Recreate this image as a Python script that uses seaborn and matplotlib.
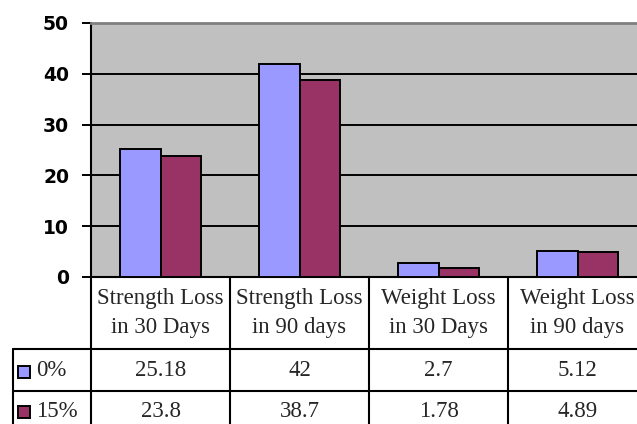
import matplotlib
matplotlib.use("Agg")
import matplotlib.pyplot as plt
import matplotlib.transforms as mtransforms
from matplotlib.lines import Line2D
import pandas as pd
import seaborn as sns

# Chart data
categories = ["Strength Loss\nin 30 Days", "Strength Loss\nin 90 days",
              "Weight Loss\nin 30 Days", "Weight Loss\nin 90 days"]
series = ["0%", "15%"]
values_0 = [25.18, 42, 2.7, 5.12]
values_15 = [23.8, 38.7, 1.78, 4.89]
value_labels_0 = ["25.18", "42", "2.7", "5.12"]
value_labels_15 = ["23.8", "38.7", "1.78", "4.89"]
y_ticks = [0, 10, 20, 30, 40, 50]

colors = ["#9999FF", "#993366"]

df = pd.DataFrame({
    "category": categories * 2,
    "series": [series[0]] * 4 + [series[1]] * 4,
    "value": values_0 + values_15,
})

sns.set_theme(style="white")
plt.rcParams["font.family"] = ["DejaVu Sans"]

fig = plt.figure(figsize=(6.37, 4.24), dpi=100)
W, H = 637, 424
# plot area in pixels: left 91, top 23, bottom 277, right 647 (runs past the edge)
ax = fig.add_axes([91 / W, (H - 277) / H, 556 / W, 254 / H])
ax.set_facecolor("#C0C0C0")

sns.barplot(data=df, x="category", y="value", hue="series", order=categories,
            hue_order=series, palette=colors, saturation=1, width=0.58, gap=0,
            edgecolor="black", linewidth=1.4, legend=False, ax=ax, zorder=3)

ax.set_xlim(-0.5, 3.5)
ax.set_ylim(0, 50)
ax.set_yticks(y_ticks)
ax.set_yticklabels([str(t) for t in y_ticks], fontsize=13.5, fontweight="bold",
                   color="black")
ax.tick_params(axis="y", direction="out", length=6.8, width=1.4, color="black",
               pad=9, left=True)
ax.tick_params(axis="x", bottom=False, labelbottom=False)
ax.set_xlabel("")
ax.set_ylabel("")

ax.set_axisbelow(True)
ax.yaxis.grid(True, color="black", linewidth=1.4)
ax.xaxis.grid(False)

for side in ("left", "bottom"):
    ax.spines[side].set_color("black")
    ax.spines[side].set_linewidth(1.5)
ax.spines["top"].set_color("#808080")
ax.spines["top"].set_linewidth(2.0)
ax.spines["right"].set_visible(False)

# Data table under the plot: x in category units, y in axes fraction
trans = mtransforms.blended_transform_factory(ax.transData, ax.transAxes)
px = 254.0  # axes height in pixels
cat_px = 139.0  # category width in pixels


def ay(y_pixel):
    return (277 - y_pixel) / px


def ax_x(x_pixel):
    return -0.5 - (91 - x_pixel) / cat_px


y_head = ay(349)
y_row1 = ay(390.5)
y_row2 = ay(432)
x_left = ax_x(12.7)

tbl_kw = dict(color="black", linewidth=1.5, transform=trans, clip_on=False)
for b in [-0.5, 0.5, 1.5, 2.5, 3.5]:
    ax.add_artist(Line2D([b, b], [0, y_row2], **tbl_kw))
ax.add_artist(Line2D([x_left, x_left], [y_head, y_row2], **tbl_kw))
for yy in (y_head, y_row1):
    ax.add_artist(Line2D([x_left, 3.5], [yy, yy], **tbl_kw))

serif = ["Liberation Serif", "DejaVu Serif"]
fs = 16.5
for i, cat in enumerate(categories):
    ax.text(i, ay(313), cat, transform=trans, ha="center",
            va="center", fontsize=fs, family=serif, linespacing=1.5,
            clip_on=False)
    ax.text(i, ay(371), value_labels_0[i], transform=trans,
            ha="center", va="center", fontsize=fs, family=serif, clip_on=False)
    ax.text(i, ay(411.5), value_labels_15[i], transform=trans,
            ha="center", va="center", fontsize=fs, family=serif, clip_on=False)

rows = [(ay(372), ay(371), series[0], colors[0]),
        (ay(412), ay(411.5), series[1], colors[1])]
for ym, yt, name, col in rows:
    ax.add_artist(Line2D([ax_x(23.8)], [ym], marker="s", markersize=8.5,
                         markerfacecolor=col, markeredgecolor="black",
                         markeredgewidth=1.4, linestyle="none",
                         transform=trans, clip_on=False))
    ax.text(ax_x(36), yt, name, transform=trans, ha="left", va="center",
            fontsize=fs, family=serif, clip_on=False)

fig.savefig("out.png", dpi=100)
